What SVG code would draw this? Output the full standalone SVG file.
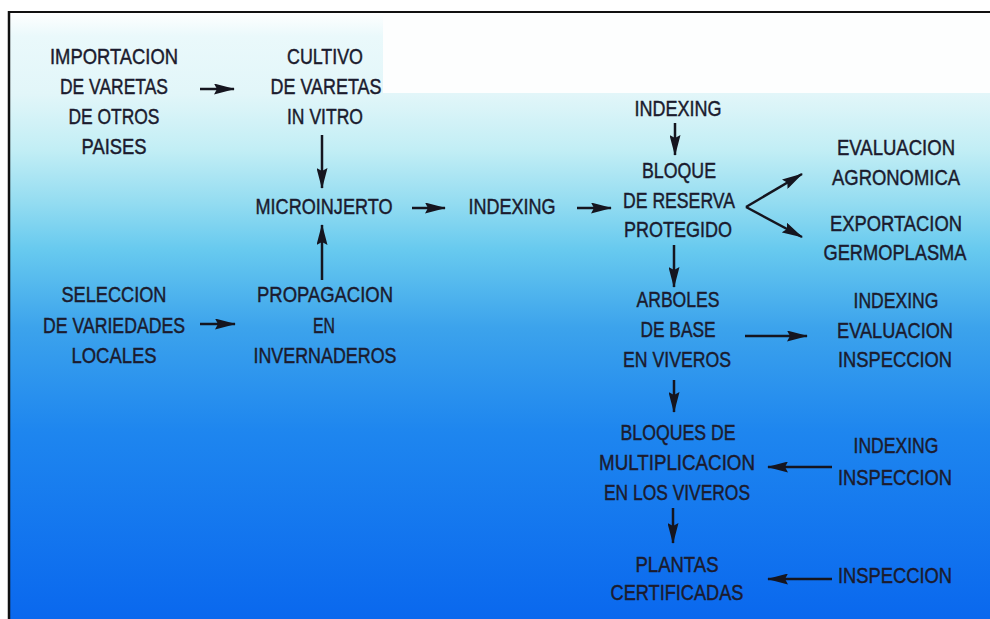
<svg xmlns="http://www.w3.org/2000/svg" width="990" height="619" viewBox="0 0 990 619">
<defs>
<linearGradient id="bg" x1="0" y1="12" x2="0" y2="619" gradientUnits="userSpaceOnUse">
<stop offset="0" stop-color="#ffffff"/>
<stop offset="0.04" stop-color="#eaf9fb"/>
<stop offset="0.134" stop-color="#e2f6f9"/>
<stop offset="0.227" stop-color="#c2eef5"/>
<stop offset="0.31" stop-color="#96ddf1"/>
<stop offset="0.39" stop-color="#68caef"/>
<stop offset="0.52" stop-color="#3ca3ec"/>
<stop offset="0.69" stop-color="#1e86ef"/>
<stop offset="1" stop-color="#0a68ee"/>
</linearGradient>
<marker id="ah" markerUnits="userSpaceOnUse" markerWidth="21" markerHeight="11" refX="20" refY="5.5" orient="auto">
<path d="M0,0 L21,5.5 L0,11 L3,5.5 z" fill="#15151f"/>
</marker>
<style>
text{font-family:"Liberation Sans",Arial,sans-serif;font-size:22px;fill:#1b1b2e;stroke:#1b1b2e;stroke-width:0.45;text-anchor:middle}
.c line{stroke:#15151f;stroke-width:2.5;marker-end:url(#ah)}
</style>
</defs>
<rect x="0" y="0" width="990" height="619" fill="#ffffff"/>
<rect x="9" y="12" width="981" height="607" fill="url(#bg)"/>
<rect x="383" y="13" width="607" height="80" fill="#fdfefe"/>
<line x1="8" y1="12" x2="990" y2="12" stroke="#111" stroke-width="2"/>
<line x1="9" y1="11" x2="9" y2="619" stroke="#111" stroke-width="2.5"/>

<g id="importacion">
<text x="114" y="64" textLength="128" lengthAdjust="spacingAndGlyphs">IMPORTACION</text>
<text x="114" y="94" textLength="108" lengthAdjust="spacingAndGlyphs">DE VARETAS</text>
<text x="114" y="124" textLength="91" lengthAdjust="spacingAndGlyphs">DE OTROS</text>
<text x="114" y="154" textLength="65" lengthAdjust="spacingAndGlyphs">PAISES</text>
</g>
<g id="cultivo">
<text x="325" y="64" textLength="76" lengthAdjust="spacingAndGlyphs">CULTIVO</text>
<text x="326" y="94" textLength="111" lengthAdjust="spacingAndGlyphs">DE VARETAS</text>
<text x="325" y="124" textLength="76" lengthAdjust="spacingAndGlyphs">IN VITRO</text>
</g>
<g id="microinjerto">
<text x="324" y="214" textLength="137" lengthAdjust="spacingAndGlyphs">MICROINJERTO</text>
</g>
<g id="indexing1">
<text x="512" y="214" textLength="87" lengthAdjust="spacingAndGlyphs">INDEXING</text>
</g>
<g id="seleccion">
<text x="114" y="302" textLength="105" lengthAdjust="spacingAndGlyphs">SELECCION</text>
<text x="114" y="333" textLength="142" lengthAdjust="spacingAndGlyphs">DE VARIEDADES</text>
<text x="114" y="363" textLength="85" lengthAdjust="spacingAndGlyphs">LOCALES</text>
</g>
<g id="propagacion">
<text x="325" y="302" textLength="136" lengthAdjust="spacingAndGlyphs">PROPAGACION</text>
<text x="324" y="333" textLength="22" lengthAdjust="spacingAndGlyphs">EN</text>
<text x="325" y="363" textLength="143" lengthAdjust="spacingAndGlyphs">INVERNADEROS</text>
</g>
<g id="indexing2">
<text x="678" y="116" textLength="87" lengthAdjust="spacingAndGlyphs">INDEXING</text>
</g>
<g id="bloque">
<text x="679" y="178" textLength="74" lengthAdjust="spacingAndGlyphs">BLOQUE</text>
<text x="679" y="208" textLength="112" lengthAdjust="spacingAndGlyphs">DE RESERVA</text>
<text x="678" y="237" textLength="108" lengthAdjust="spacingAndGlyphs">PROTEGIDO</text>
</g>
<g id="evaluacion">
<text x="896" y="155" textLength="118" lengthAdjust="spacingAndGlyphs">EVALUACION</text>
<text x="896" y="185" textLength="128" lengthAdjust="spacingAndGlyphs">AGRONOMICA</text>
</g>
<g id="exportacion">
<text x="896" y="231" textLength="132" lengthAdjust="spacingAndGlyphs">EXPORTACION</text>
<text x="895" y="260" textLength="143" lengthAdjust="spacingAndGlyphs">GERMOPLASMA</text>
</g>
<g id="arboles">
<text x="678" y="307" textLength="83" lengthAdjust="spacingAndGlyphs">ARBOLES</text>
<text x="678" y="337" textLength="75" lengthAdjust="spacingAndGlyphs">DE BASE</text>
<text x="677" y="367" textLength="108" lengthAdjust="spacingAndGlyphs">EN VIVEROS</text>
</g>
<g id="control1">
<text x="896" y="308" textLength="85" lengthAdjust="spacingAndGlyphs">INDEXING</text>
<text x="895" y="338" textLength="116" lengthAdjust="spacingAndGlyphs">EVALUACION</text>
<text x="895" y="367" textLength="114" lengthAdjust="spacingAndGlyphs">INSPECCION</text>
</g>
<g id="bloques">
<text x="678" y="440" textLength="115" lengthAdjust="spacingAndGlyphs">BLOQUES DE</text>
<text x="677" y="470" textLength="156" lengthAdjust="spacingAndGlyphs">MULTIPLICACION</text>
<text x="677" y="500" textLength="146" lengthAdjust="spacingAndGlyphs">EN LOS VIVEROS</text>
</g>
<g id="control2">
<text x="896" y="453" textLength="85" lengthAdjust="spacingAndGlyphs">INDEXING</text>
<text x="895" y="485" textLength="114" lengthAdjust="spacingAndGlyphs">INSPECCION</text>
</g>
<g id="plantas">
<text x="677" y="572" textLength="83" lengthAdjust="spacingAndGlyphs">PLANTAS</text>
<text x="677" y="600" textLength="133" lengthAdjust="spacingAndGlyphs">CERTIFICADAS</text>
</g>
<g id="control3">
<text x="895" y="583" textLength="114" lengthAdjust="spacingAndGlyphs">INSPECCION</text>
</g>

<g id="connectors" class="c">
<line x1="200" y1="89" x2="234" y2="89"/>
<line x1="322" y1="135" x2="322" y2="188"/>
<line x1="322" y1="280" x2="322" y2="225"/>
<line x1="200" y1="324" x2="235" y2="324"/>
<line x1="412" y1="208" x2="445" y2="208"/>
<line x1="577" y1="208" x2="611" y2="208"/>
<line x1="675" y1="123" x2="675" y2="155"/>
<line x1="746" y1="207" x2="802" y2="174"/>
<line x1="746" y1="207" x2="802" y2="237"/>
<line x1="674" y1="245" x2="674" y2="287"/>
<line x1="745" y1="336" x2="807" y2="336"/>
<line x1="674" y1="380" x2="674" y2="412"/>
<line x1="832" y1="467" x2="768" y2="467"/>
<line x1="673" y1="508" x2="673" y2="543"/>
<line x1="832" y1="579" x2="768" y2="579"/>
</g>
</svg>
